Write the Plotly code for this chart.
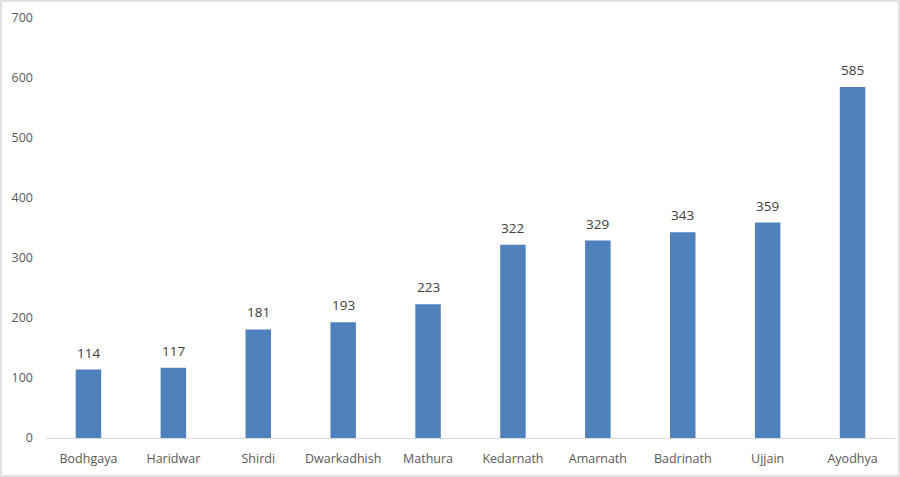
import plotly.graph_objects as go

categories = ["Bodhgaya", "Haridwar", "Shirdi", "Dwarkadhish", "Mathura",
              "Kedarnath", "Amarnath", "Badrinath", "Ujjain", "Ayodhya"]
values = [114, 117, 181, 193, 223, 322, 329, 343, 359, 585]
y_ticks = [0, 100, 200, 300, 400, 500, 600, 700]

W, H = 900, 477
ml, mr, mt, mb = 46, 5, 18, 39
pw, ph = W - ml - mr, H - mt - mb

fig = go.Figure(go.Bar(
    x=categories, y=values,
    marker=dict(color="#4F81BD", line=dict(width=0)),
    width=0.30,
    hoverinfo="x+y",
))

for c, v in zip(categories, values):
    fig.add_annotation(x=c, y=v, text=str(v), showarrow=False,
                       yanchor="bottom", yshift=6,
                       font=dict(size=13.5, color="#404040"))

fig.update_layout(
    width=W, height=H,
    margin=dict(l=ml, r=mr, t=mt, b=mb, pad=0),
    paper_bgcolor="white", plot_bgcolor="white",
    font=dict(family="Open Sans, Lato, sans-serif", size=12, color="#595959"),
    showlegend=False,
    xaxis=dict(showline=True, linecolor="#D9D9D9", linewidth=1, ticks="",
               ticklabelstandoff=9,
               tickfont=dict(size=12.5, color="#595959"), showgrid=False),
    yaxis=dict(range=[0, 700], tickvals=y_ticks, showgrid=False, zeroline=False,
               showline=False, ticks="", ticklabelstandoff=12,
               tickfont=dict(size=12.5, color="#595959")),
    shapes=[dict(type="rect", xref="paper", yref="paper",
                 x0=-(ml - 1) / pw, x1=1 + (mr - 1) / pw,
                 y0=-(mb - 1) / ph, y1=1 + (mt - 1) / ph,
                 line=dict(color="#D9D9D9", width=1.5))],
)

fig.write_html("out.html", config={"displayModeBar": False},
               post_script="document.body.style.margin='0';document.body.style.padding='0';document.body.style.overflow='hidden';")
